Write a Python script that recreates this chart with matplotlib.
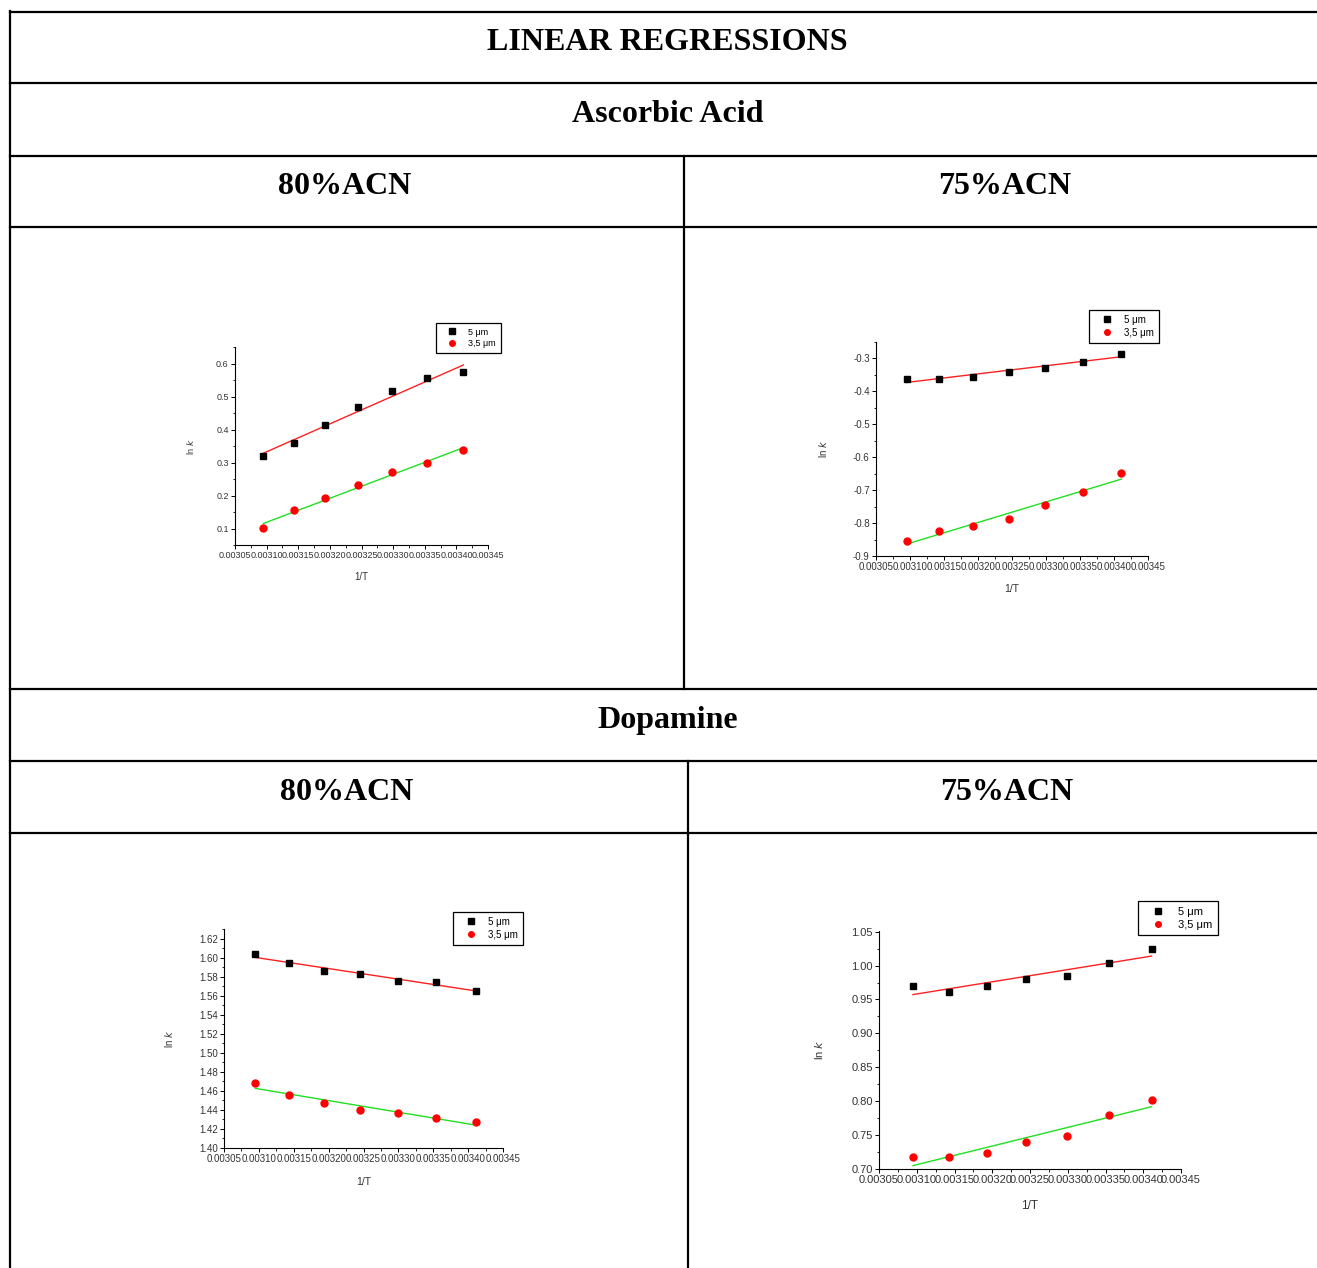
import numpy as np
import matplotlib
matplotlib.use("Agg")
import matplotlib.pyplot as plt
from matplotlib.lines import Line2D
from matplotlib.ticker import MultipleLocator, AutoMinorLocator, FormatStrFormatter

# 1/T values (K^-1), 50 -> 20 degC
inv_T = [0.003095, 0.003143, 0.003193, 0.003245, 0.003299, 0.003354, 0.003411]

# ln k
aa80_5um = [0.321, 0.359, 0.414, 0.468, 0.516, 0.556, 0.573]
aa80_35um = [0.102, 0.155, 0.191, 0.232, 0.272, 0.298, 0.338]
aa75_5um = [-0.361, -0.363, -0.356, -0.341, -0.328, -0.310, -0.285]
aa75_35um = [-0.854, -0.824, -0.810, -0.788, -0.744, -0.707, -0.648]
da80_5um = [1.6035, 1.5946, 1.5858, 1.5823, 1.5752, 1.5745, 1.5654]
da80_35um = [1.4686, 1.4556, 1.4468, 1.4401, 1.4369, 1.4316, 1.4274]
da75_5um = [0.9704, 0.9605, 0.9704, 0.9797, 0.9851, 1.0033, 1.0244]
da75_35um = [0.7181, 0.7176, 0.7240, 0.7393, 0.7491, 0.7801, 0.8022]

series_labels = ["5 μm", "3,5 μm"]

W, H = 1317, 1268
fig = plt.figure(figsize=(W / 100, H / 100), dpi=100)


def fx(px):
    return px / W


def fy(py):
    return 1 - py / H


def hline(y, x0=10, x1=W):
    fig.add_artist(Line2D([fx(x0), fx(x1)], [fy(y), fy(y)], color="black",
                          lw=1.6, transform=fig.transFigure))


def vline(x, y0, y1):
    fig.add_artist(Line2D([fx(x), fx(x)], [fy(y0), fy(y1)], color="black",
                          lw=1.6, transform=fig.transFigure))


# table grid
for y in [12, 83, 156, 227, 689, 761, 833]:
    hline(y)
vline(10, 11, H)
vline(684, 156, 689)
vline(688, 761, H)

head = dict(family="Liberation Serif", weight="bold", fontsize=23,
            ha="center", va="baseline")
fig.text(fx(667), fy(50), "LINEAR REGRESSIONS", **head)
fig.text(fx(668), fy(122), "Ascorbic Acid", **head)
fig.text(fx(345), fy(194), "80%ACN", **head)
fig.text(fx(1005), fy(194), "75%ACN", **head)
fig.text(fx(668), fy(728), "Dopamine", **head)
fig.text(fx(347), fy(800), "80%ACN", **head)
fig.text(fx(1007), fy(800), "75%ACN", **head)


def panel(box, ylim, ystep, yfmt, y5, y35, fs, leg_box, ylab_x, xlab_y):
    l, t, r, b = box
    ax = fig.add_axes([fx(l), fy(b), (r - l) / W, (b - t) / H])
    x = np.array(inv_T)
    for y, col in [(y5, "#ff2020"), (y35, "#20e020")]:
        k, c = np.polyfit(x, y, 1)
        ax.plot([x[0], x[-1]], [k * x[0] + c, k * x[-1] + c], color=col,
                lw=1.0, zorder=2)
    ax.plot(x, y5, "s", color="black", ms=4.8, ls="none",
            label=series_labels[0], zorder=3)
    ax.plot(x, y35, "o", color="red", ms=5.0, ls="none",
            label=series_labels[1], zorder=3)
    ax.set_xlim(0.00305, 0.00345)
    ax.set_ylim(*ylim)
    ax.xaxis.set_major_locator(MultipleLocator(0.00005))
    ax.xaxis.set_major_formatter(FormatStrFormatter("%.5f"))
    ax.yaxis.set_major_locator(MultipleLocator(ystep))
    ax.yaxis.set_major_formatter(FormatStrFormatter(yfmt))
    ax.xaxis.set_minor_locator(AutoMinorLocator(2))
    ax.yaxis.set_minor_locator(AutoMinorLocator(2))
    for s in ["top", "right"]:
        ax.spines[s].set_visible(False)
    for s in ["left", "bottom"]:
        ax.spines[s].set_linewidth(0.8)
    ax.tick_params(which="major", direction="out", length=3, width=0.7,
                   labelsize=fs, colors="black", labelcolor="#333333", pad=1.5)
    ax.tick_params(which="minor", direction="out", length=1.8, width=0.6)
    for lab in ax.get_xticklabels() + ax.get_yticklabels():
        lab.set_family("Liberation Sans")
    ax.set_ylabel("ln $\\mathit{k}$", fontsize=fs, family="Liberation Sans",
                  color="#333333")
    ax.yaxis.set_label_coords((ylab_x - l) / (r - l), 0.5)
    ax.set_xlabel("1/T", fontsize=fs + 0.5, family="Liberation Sans",
                  color="#333333")
    ax.xaxis.set_label_coords(0.5, -(xlab_y - b) / (b - t))
    lx0, ly0, lx1, ly1 = leg_box
    leg = ax.legend(loc="upper left", bbox_to_anchor=(fx(lx0), fy(ly0)),
                    bbox_transform=fig.transFigure, borderaxespad=0,
                    fancybox=False, edgecolor="black", framealpha=1,
                    prop={"family": "Liberation Sans", "size": fs},
                    handlelength=2.6, handletextpad=0.5, borderpad=0.5,
                    labelspacing=0.3, markerscale=0.8)
    leg.get_frame().set_linewidth(0.9)
    return ax


panel((235, 347, 488, 545), (0.05, 0.65), 0.1, "%.1f", aa80_5um, aa80_35um,
      6.5, (436, 323, 503, 353), 196, 572)
panel((876, 342, 1148, 556), (-0.9, -0.25), 0.1, "%.1f", aa75_5um, aa75_35um,
      7, (1089, 310, 1163, 346), 829, 584)
panel((224, 929, 503, 1148), (1.40, 1.63), 0.02, "%.2f", da80_5um, da80_35um,
      7, (453, 912, 527, 947), 175, 1177)
panel((879, 931, 1181, 1169), (0.70, 1.051), 0.05, "%.2f", da75_5um, da75_35um,
      8, (1138, 901, 1219, 938), 825, 1200)

fig.savefig("out.png", dpi=100, facecolor="white")
